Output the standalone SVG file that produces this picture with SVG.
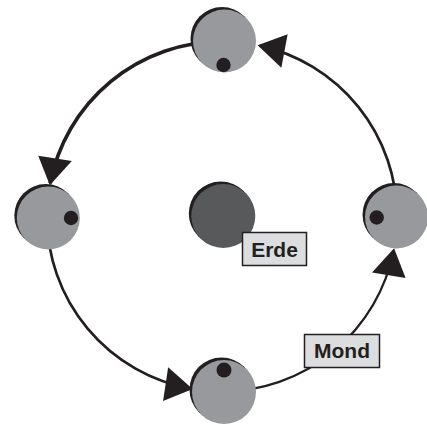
<svg xmlns="http://www.w3.org/2000/svg" width="427" height="425" viewBox="0 0 427 425">
  <style>
    .orbit { fill: none; stroke: #231f20; stroke-linecap: butt; }
    .shadow { fill: #231f20; }
    .moon { fill: #98999c; }
    .earth { fill: #58595b; }
    .spot { fill: #231f20; }
    .tag { fill: #dcddde; stroke: #231f20; stroke-width: 1.5; }
    .label { font-family: "Liberation Sans", Arial, sans-serif; font-weight: bold; font-size: 21px; fill: #231f20; text-anchor: middle; }
  </style>
  <defs>
    <marker id="head" markerUnits="userSpaceOnUse" markerWidth="40" markerHeight="40" viewBox="-30 -20 40 40" refX="0" refY="0" orient="auto" overflow="visible">
      <path d="M2,0 L-26,-17 L-25,17 Z" fill="#231f20"/>
    </marker>
  </defs>
  <rect width="427" height="425" fill="#ffffff"/>

  <!-- orbit arcs, travelling counter-clockwise -->
  <g id="connectors">
    <path class="orbit" stroke-width="2.7" d="M397,216.5 A175,175 0 0 0 259.6,45.6" marker-end="url(#head)"/>
    <path class="orbit" stroke-width="3.7" d="M222,41.5 A175,175 0 0 0 50.2,183.4" marker-end="url(#head)"/>
    <path class="orbit" stroke-width="2.7" d="M47,216.5 A175,175 0 0 0 190.7,388.7" marker-end="url(#head)"/>
    <path class="orbit" stroke-width="2.2" d="M222,391.5 A175,175 0 0 0 393.7,250.2" marker-end="url(#head)"/>
  </g>

  <g id="earth">
    <circle class="shadow" cx="220.8" cy="213.5" r="32"/>
    <circle class="earth" cx="223.3" cy="216" r="32"/>
  </g>

  <g id="moon-top">
    <circle class="shadow" cx="222" cy="38.5" r="31.5"/>
    <circle class="moon" cx="224.5" cy="41" r="31.5"/>
    <circle class="spot" cx="223.5" cy="65" r="7.2"/>
  </g>

  <g id="moon-left">
    <circle class="shadow" cx="45.8" cy="215.5" r="31.5"/>
    <circle class="moon" cx="48.3" cy="218" r="31.5"/>
    <circle class="spot" cx="71" cy="218" r="7.2"/>
  </g>

  <g id="moon-right">
    <circle class="shadow" cx="394" cy="214.5" r="31.5"/>
    <circle class="moon" cx="396.5" cy="217" r="31.5"/>
    <circle class="spot" cx="376.7" cy="217.5" r="7.2"/>
  </g>

  <g id="moon-bottom">
    <circle class="shadow" cx="221.5" cy="389.5" r="32"/>
    <circle class="moon" cx="224" cy="392" r="32"/>
    <circle class="spot" cx="224" cy="370" r="7.5"/>
  </g>

  <g id="label-erde">
    <rect class="tag" x="242.5" y="232.5" width="64" height="33"/>
    <text class="label" x="274.5" y="257">Erde</text>
  </g>

  <g id="label-mond">
    <rect class="tag" x="304.5" y="334.5" width="75" height="33"/>
    <text class="label" x="342" y="358">Mond</text>
  </g>
</svg>
